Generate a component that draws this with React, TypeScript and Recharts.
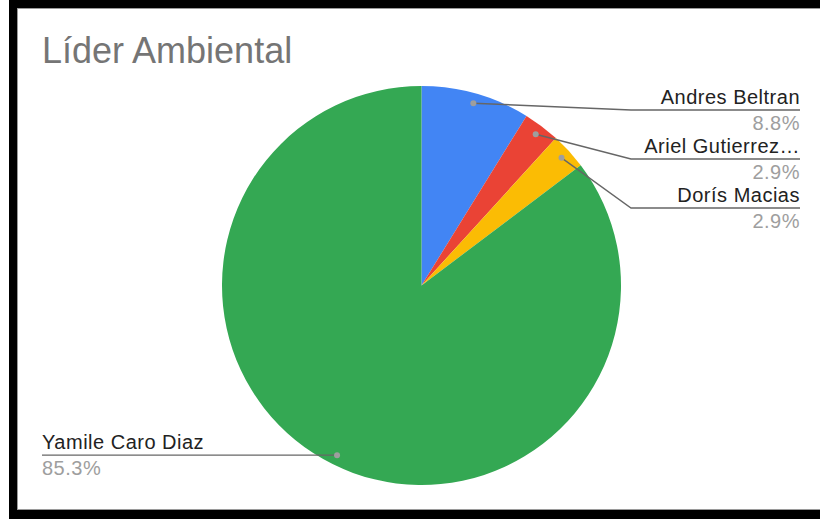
import React, { useEffect } from 'react';
import { PieChart, Pie, Cell } from 'recharts';

const names = ['Andres Beltran', 'Ariel Gutierrez…', 'Dorís Macias', 'Yamile Caro Diaz'];
const votes = [3, 1, 1, 29];
const colors = ['#4285f4', '#ea4335', '#fbbc04', '#34a853'];

const data = names.map((name, i) => ({ name, value: votes[i] }));

const CX = 421.5;
const CY = 285.5;
const R = 199.5;
const RAD = Math.PI / 180;
const FONT = '"Liberation Sans", Arial, sans-serif';

// where each label goes: dot on the slice, then a line out to a stacked row
function layoutLabels() {
  const total = votes.reduce((a, b) => a + b, 0);
  let cum = 0;
  const pts = votes.map((v, i) => {
    const ang = 90 - (360 * (cum + v / 2)) / total;
    cum += v;
    const x = CX + (R - 10) * Math.cos(ang * RAD);
    const y = CY - (R - 10) * Math.sin(ang * RAD);
    return { i, x, y, right: x >= CX, lineY: y };
  });
  const minY = CY - R + 24;
  const maxY = CY + R - 20;
  const right = pts.filter((p) => p.right).sort((a, b) => a.y - b.y);
  let prev = -Infinity;
  right.forEach((p) => {
    p.lineY = Math.max(p.y, minY, prev + 49);
    prev = p.lineY;
  });
  const left = pts.filter((p) => !p.right).sort((a, b) => b.y - a.y);
  prev = Infinity;
  left.forEach((p) => {
    p.lineY = Math.min(p.y, maxY, prev - 49);
    prev = p.lineY;
  });
  return pts;
}

const labelPos = layoutLabels();

function renderLabel(props: any) {
  const idx = typeof props.index === 'number' ? props.index : names.indexOf(props.name);
  const p = labelPos[idx];
  if (!p) return null;
  const pct = ((props.percent ?? 0) * 100).toFixed(1) + '%';
  const elbowX = p.right ? CX + R + 10 : CX - R - 10;
  const endX = p.right ? 800 : 42;
  const anchor = p.right ? 'end' : 'start';
  return (
    <g>
      <polyline
        points={`${p.x},${p.y} ${elbowX},${p.lineY} ${endX},${p.lineY}`}
        fill="none"
        stroke="#666666"
        strokeWidth={1.4}
      />
      <circle cx={p.x} cy={p.y} r={3} fill="#9e9e9e" />
      <text
        x={endX}
        y={p.lineY - 6}
        textAnchor={anchor}
        fontFamily={FONT}
        fontSize={20}
        letterSpacing={0.5}
        fill="#222222"
      >
        {props.name}
      </text>
      <text
        x={endX}
        y={p.lineY + 20}
        textAnchor={anchor}
        fontFamily={FONT}
        fontSize={20}
        letterSpacing={0.5}
        fill="#9e9e9e"
      >
        {pct}
      </text>
    </g>
  );
}

export default function App() {
  useEffect(() => {
    document.body.style.margin = '0';
    document.body.style.overflow = 'hidden';
  }, []);

  return (
    <div style={{ position: 'fixed', left: 0, top: 0, width: 820, height: 519, background: '#fff', overflow: 'hidden' }}>
      <div style={{ position: 'absolute', left: 9, top: 0, right: -20, height: 519, background: '#000' }} />
      <div
        style={{
          position: 'absolute',
          left: 17,
          top: 8,
          right: -20,
          height: 502,
          background: '#fff',
          boxSizing: 'border-box',
          borderTop: '1px solid #9a9a9a',
          borderLeft: '1px solid #9a9a9a',
          borderBottom: '1px solid #9a9a9a',
        }}
      />
      <div
        style={{
          position: 'absolute',
          left: 42,
          top: 30,
          fontFamily: FONT,
          fontSize: 36,
          color: '#757575',
          whiteSpace: 'nowrap',
        }}
      >
        Líder Ambiental
      </div>
      <div style={{ position: 'absolute', left: 0, top: 0 }}>
        <PieChart width={820} height={519} margin={{ top: 0, right: 0, bottom: 0, left: 0 }}>
          <Pie
            data={data}
            dataKey="value"
            nameKey="name"
            cx={CX}
            cy={CY}
            outerRadius={R}
            startAngle={90}
            endAngle={-270}
            stroke="none"
            label={renderLabel}
            labelLine={false}
            isAnimationActive={false}
          >
            {data.map((d, i) => (
              <Cell key={d.name} fill={colors[i]} />
            ))}
          </Pie>
        </PieChart>
      </div>
    </div>
  );
}
